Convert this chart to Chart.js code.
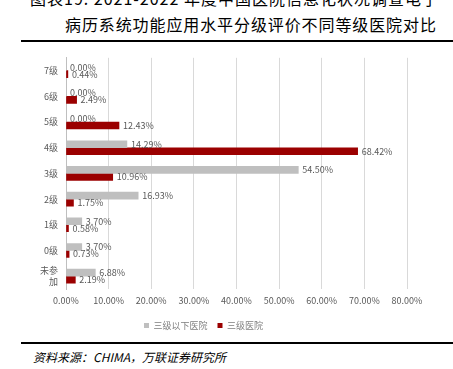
<!DOCTYPE html>
<html>
<head>
<meta charset="utf-8">
<script src="https://cdn.jsdelivr.net/npm/chart.js@4.4.0/dist/chart.umd.min.js"></script>
<style>
  body { margin: 0; background: #fff; width: 453px; height: 369px; overflow: hidden; position: relative; font-family: "Noto Sans CJK SC", sans-serif; }
  .t1 { position: absolute; left: 30px; top: -14px; font-size: 16px; letter-spacing: 1px; color: #000; white-space: nowrap; }
  .t2 { position: absolute; left: 65px; top: 12px; font-size: 16px; letter-spacing: 0.9px; color: #000; white-space: nowrap; }
  .hr1 { position: absolute; left: 21px; top: 40px; width: 432px; height: 2px; background: #000; }
  .hr2 { position: absolute; left: 21px; top: 342px; width: 432px; height: 2px; background: #000; }
  .src { position: absolute; left: 33px; top: 348px; font-size: 12px; font-style: italic; color: #000; white-space: nowrap; }
  #wrap { position: absolute; left: 0; top: 39px; width: 453px; height: 301px; }
</style>
</head>
<body>
<div class="t1">图表19: 2021-2022 年度中国医院信息化状况调查电子</div>
<div class="t2">病历系统功能应用水平分级评价不同等级医院对比</div>
<div id="wrap"><canvas id="chart"></canvas></div>
<div class="hr1"></div>
<div class="hr2"></div>
<div class="src">资料来源：CHIMA，万联证券研究所</div>
<script>
// categories top -> bottom
var levels = ['7级', '6级', '5级', '4级', '3级', '2级', '1级', '0级', ['未参', '加']];
var belowTier3 = [0.00, 0.00, 0.00, 14.29, 54.50, 16.93, 3.70, 3.70, 6.88];   // 三级以下医院
var tier3 = [0.44, 2.49, 12.43, 68.42, 10.96, 1.75, 0.58, 0.73, 2.19];        // 三级医院
var seriesNames = ['三级以下医院', '三级医院'];
var xTicks = [0, 10, 20, 30, 40, 50, 60, 70, 80];

var labelFont = '9px "Noto Sans CJK SC", sans-serif';

// draw value labels at bar ends
var valueLabels = {
    id: 'valueLabels',
    afterDatasetsDraw: function(chart) {
        var ctx = chart.ctx;
        ctx.save();
        ctx.font = labelFont;
        ctx.fillStyle = '#595959';
        ctx.textAlign = 'left';
        ctx.textBaseline = 'middle';
        chart.data.datasets.forEach(function(ds, i) {
            var meta = chart.getDatasetMeta(i);
            meta.data.forEach(function(bar, j) {
                ctx.fillText(ds.data[j].toFixed(2) + '%', bar.x + 4, bar.y);
            });
        });
        ctx.restore();
    }
};

var myChart = new Chart(document.getElementById('chart'), {
    type: 'bar',
    data: {
        labels: levels,
        datasets: [{
            label: seriesNames[0],
            data: belowTier3,
            backgroundColor: '#bfbfbf',
            barThickness: 7
        }, {
            label: seriesNames[1],
            data: tier3,
            backgroundColor: '#9b0000',
            barThickness: 7
        }]
    },
    options: {
        indexAxis: 'y',
        responsive: true,
        maintainAspectRatio: false,
        animation: false,
        layout: { padding: { top: 0, right: 46, left: 0, bottom: 0 } },
        datasets: { bar: { categoryPercentage: 0.56, barPercentage: 0.97 } },
        scales: {
            x: {
                min: 0,
                max: 80,
                afterBuildTicks: function(scale) {
                    scale.ticks = xTicks.map(function(v) { return { value: v }; });
                },
                afterFit: function(scale) { scale.height = 22; },
                grid: { color: '#d9d9d9', drawTicks: false },
                border: { display: false },
                ticks: {
                    padding: 6,
                    color: '#595959',
                    font: { size: 9, family: '"Noto Sans CJK SC", sans-serif' },
                    callback: function(v) { return v.toFixed(2) + '%'; }
                }
            },
            y: {
                afterFit: function(scale) { scale.width = 66; },
                grid: { display: false, drawTicks: false },
                border: { display: true, color: '#bfbfbf' },
                ticks: {
                    autoSkip: false,
                    padding: 8,
                    color: '#595959',
                    font: { size: 9, family: '"Noto Sans CJK SC", sans-serif' }
                }
            }
        },
        plugins: {
            legend: {
                position: 'bottom',
                labels: {
                    boxWidth: 5,
                    boxHeight: 5,
                    padding: 10,
                    color: '#7f7f7f',
                    font: { size: 9, family: '"Noto Sans CJK SC", sans-serif' }
                }
            },
            tooltip: { enabled: false }
        }
    },
    plugins: [valueLabels]
});
</script>
</body>
</html>
